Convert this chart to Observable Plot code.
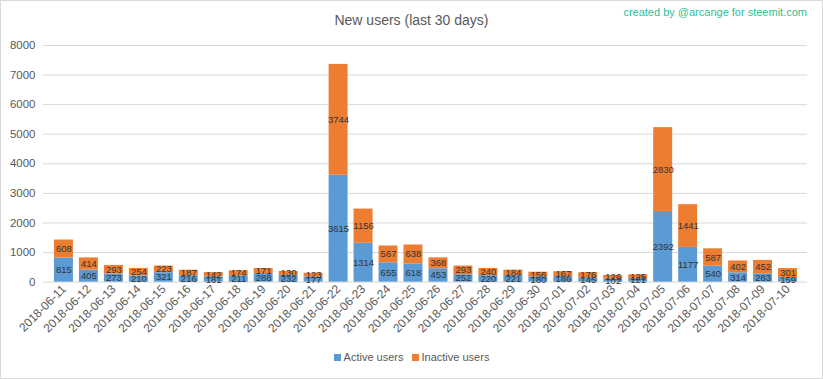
<!DOCTYPE html>
<html><head><meta charset="utf-8">
<script src="https://cdn.jsdelivr.net/npm/d3@7"></script>
<script src="https://cdn.jsdelivr.net/npm/@observablehq/plot@0.6"></script>
<style>
body{margin:0;background:#fff;font-family:"Liberation Sans",Arial,sans-serif}
#wrap{position:relative;width:821px;height:377px;border:1px solid #d9d9d9;overflow:hidden;background:#fff}
#chart{position:absolute;left:-1px;top:-1px}
#title{position:absolute;left:0;width:821px;top:11px;text-align:center;font-size:14px;color:#595959}
#credit{position:absolute;right:15px;top:5px;font-size:11px;color:#2bbf9a}
#legend{position:absolute;top:350px;left:0;width:821px;text-align:center;font-size:11px;color:#595959}
#legend span.item{display:inline-block;margin:0 4px}
#legend span.sw{display:inline-block;width:7px;height:7px;margin-right:3px;vertical-align:0px}
</style></head>
<body>
<div id="wrap">
  <div id="chart"></div>
  <div id="title">New users (last 30 days)</div>
  <div id="credit">created by @arcange for steemit.com</div>
  <div id="legend"></div>
</div>
<script>
const dates = ["2018-06-11","2018-06-12","2018-06-13","2018-06-14","2018-06-15","2018-06-16","2018-06-17","2018-06-18","2018-06-19","2018-06-20","2018-06-21","2018-06-22","2018-06-23","2018-06-24","2018-06-25","2018-06-26","2018-06-27","2018-06-28","2018-06-29","2018-06-30","2018-07-01","2018-07-02","2018-07-03","2018-07-04","2018-07-05","2018-07-06","2018-07-07","2018-07-08","2018-07-09","2018-07-10"];
const active = [815,405,273,210,321,216,181,211,288,232,177,3615,1314,655,618,453,252,220,221,180,186,145,102,121,2392,1177,540,314,283,159];
const inactive = [608,414,293,254,223,187,142,174,171,130,123,3744,1156,567,638,368,293,240,184,156,167,176,126,125,2830,1441,587,402,452,301];
const seriesNames = ["Active users","Inactive users"];
const seriesColors = ["#5b9bd5","#ed7d31"];
const yTicks = [0,1000,2000,3000,4000,5000,6000,7000,8000];

const data = dates.flatMap((d,i)=>[
  {date:d, series:seriesNames[0], value:active[i]},
  {date:d, series:seriesNames[1], value:inactive[i]}
]);

const chart = Plot.plot({
  width:823, height:379,
  marginTop:45, marginBottom:97, marginLeft:43, marginRight:15,
  style:{fontFamily:'"Liberation Sans",Arial,sans-serif', fontSize:"11px", color:"#595959", background:"transparent", overflow:"visible"},
  x:{domain:dates, padding:0.25, label:null},
  y:{domain:[0,8000], label:null},
  color:{domain:seriesNames, range:seriesColors},
  marks:[
    Plot.gridY(yTicks, {stroke:"#d9d9d9", strokeOpacity:1}),
    Plot.axisY(yTicks, {tickSize:0, tickPadding:8, tickFormat:d=>String(d), fontSize:11.5, label:null}),
    Plot.axisX({tickRotate:-45, tickSize:0, tickPadding:5, fontSize:12, label:null}),
    Plot.barY(data, {x:"date", y:"value", z:"series", fill:"series"}),
    Plot.text(data, Plot.stackY({x:"date", y:"value", z:"series", text:d=>String(d.value), fill:"#333333", fontSize:9.5}))
  ]
});
document.getElementById("chart").appendChild(chart);

const legend = document.getElementById("legend");
seriesNames.forEach((s,i)=>{
  const item = document.createElement("span");
  item.className = "item";
  const sw = document.createElement("span");
  sw.className = "sw";
  sw.style.background = seriesColors[i];
  item.appendChild(sw);
  item.appendChild(document.createTextNode(s));
  legend.appendChild(item);
});
</script>
</body></html>
